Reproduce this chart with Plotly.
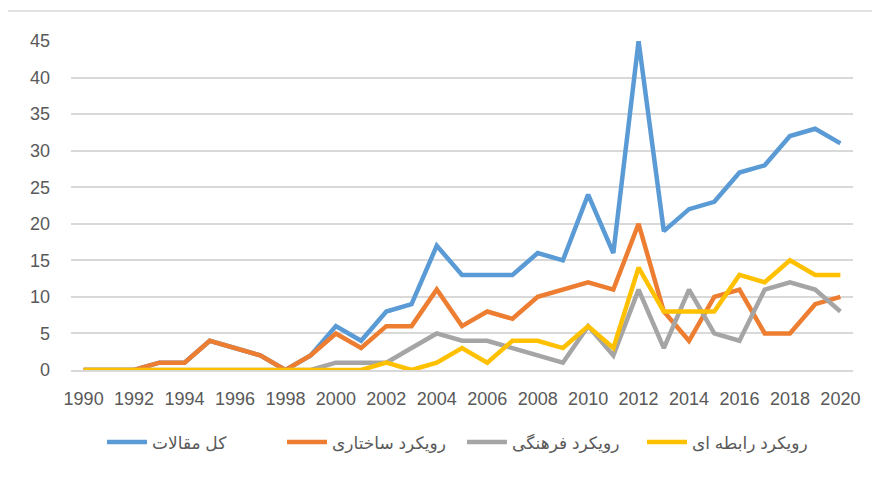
import plotly.graph_objects as go

years = list(range(1990, 2021))
total = [0, 0, 0, 1, 1, 4, 3, 2, 0, 2, 6, 4, 8, 9, 17, 13, 13, 13, 16, 15, 24, 16, 45, 19, 22, 23, 27, 28, 32, 33, 31]
structural = [0, 0, 0, 1, 1, 4, 3, 2, 0, 2, 5, 3, 6, 6, 11, 6, 8, 7, 10, 11, 12, 11, 20, 8, 4, 10, 11, 5, 5, 9, 10]
cultural = [0, 0, 0, 0, 0, 0, 0, 0, 0, 0, 1, 1, 1, 3, 5, 4, 4, 3, 2, 1, 6, 2, 11, 3, 11, 5, 4, 11, 12, 11, 8]
relational = [0, 0, 0, 0, 0, 0, 0, 0, 0, 0, 0, 0, 1, 0, 1, 3, 1, 4, 4, 3, 6, 3, 14, 8, 8, 8, 13, 12, 15, 13, 13]

names = ["کل مقالات", "رویکرد ساختاری", "رویکرد فرهنگی", "رویکرد رابطه ای"]
colors = ["#5B9BD5", "#ED7D31", "#A5A5A5", "#FFC000"]
series = [total, structural, cultural, relational]

fig = go.Figure()
for name, col, vals in zip(names, colors, series):
    fig.add_trace(go.Scatter(
        x=years, y=vals, mode="lines", name=name,
        line=dict(color=col, width=4.5),
    ))

L, T, R, B = 63, 33, 35, 123
pw = 880 - L - R
ph = 485 - T - B

fig.update_layout(
    width=880, height=485,
    margin=dict(l=L, r=R, t=T, b=B),
    paper_bgcolor="white", plot_bgcolor="white",
    font=dict(family="Liberation Sans, DejaVu Sans, sans-serif", color="#595959", size=18),
    showlegend=True,
    legend=dict(
        orientation="h", x=0.5, xanchor="center", y=-0.22, yanchor="middle",
        font=dict(size=17, color="#595959"),
        itemwidth=40, entrywidth=125,
    ),
    xaxis=dict(
        range=[1989.5, 2020.5],
        tickmode="linear", tick0=1990, dtick=2,
        showgrid=False, zeroline=False,
        showline=True, linecolor="#D9D9D9", linewidth=1.5,
        ticks="", ticklabelstandoff=12,
        tickfont=dict(size=18, color="#595959"),
    ),
    yaxis=dict(
        range=[0, 45],
        tickmode="linear", tick0=0, dtick=5,
        showgrid=True, gridcolor="#D9D9D9", gridwidth=1.5,
        zeroline=False, showline=False,
        ticks="", ticklabelstandoff=20,
        tickfont=dict(size=18, color="#595959"),
    ),
    shapes=[dict(
        type="rect", xref="paper", yref="paper",
        x0=(7 - 8 - L) / pw, x1=1.2, y0=-0.6, y1=1 + (T - (11 - 8)) / ph,
        line=dict(color="#D9D9D9", width=1.5), fillcolor="rgba(0,0,0,0)",
        layer="below",
    )],
)

fig.write_html("out.html")
